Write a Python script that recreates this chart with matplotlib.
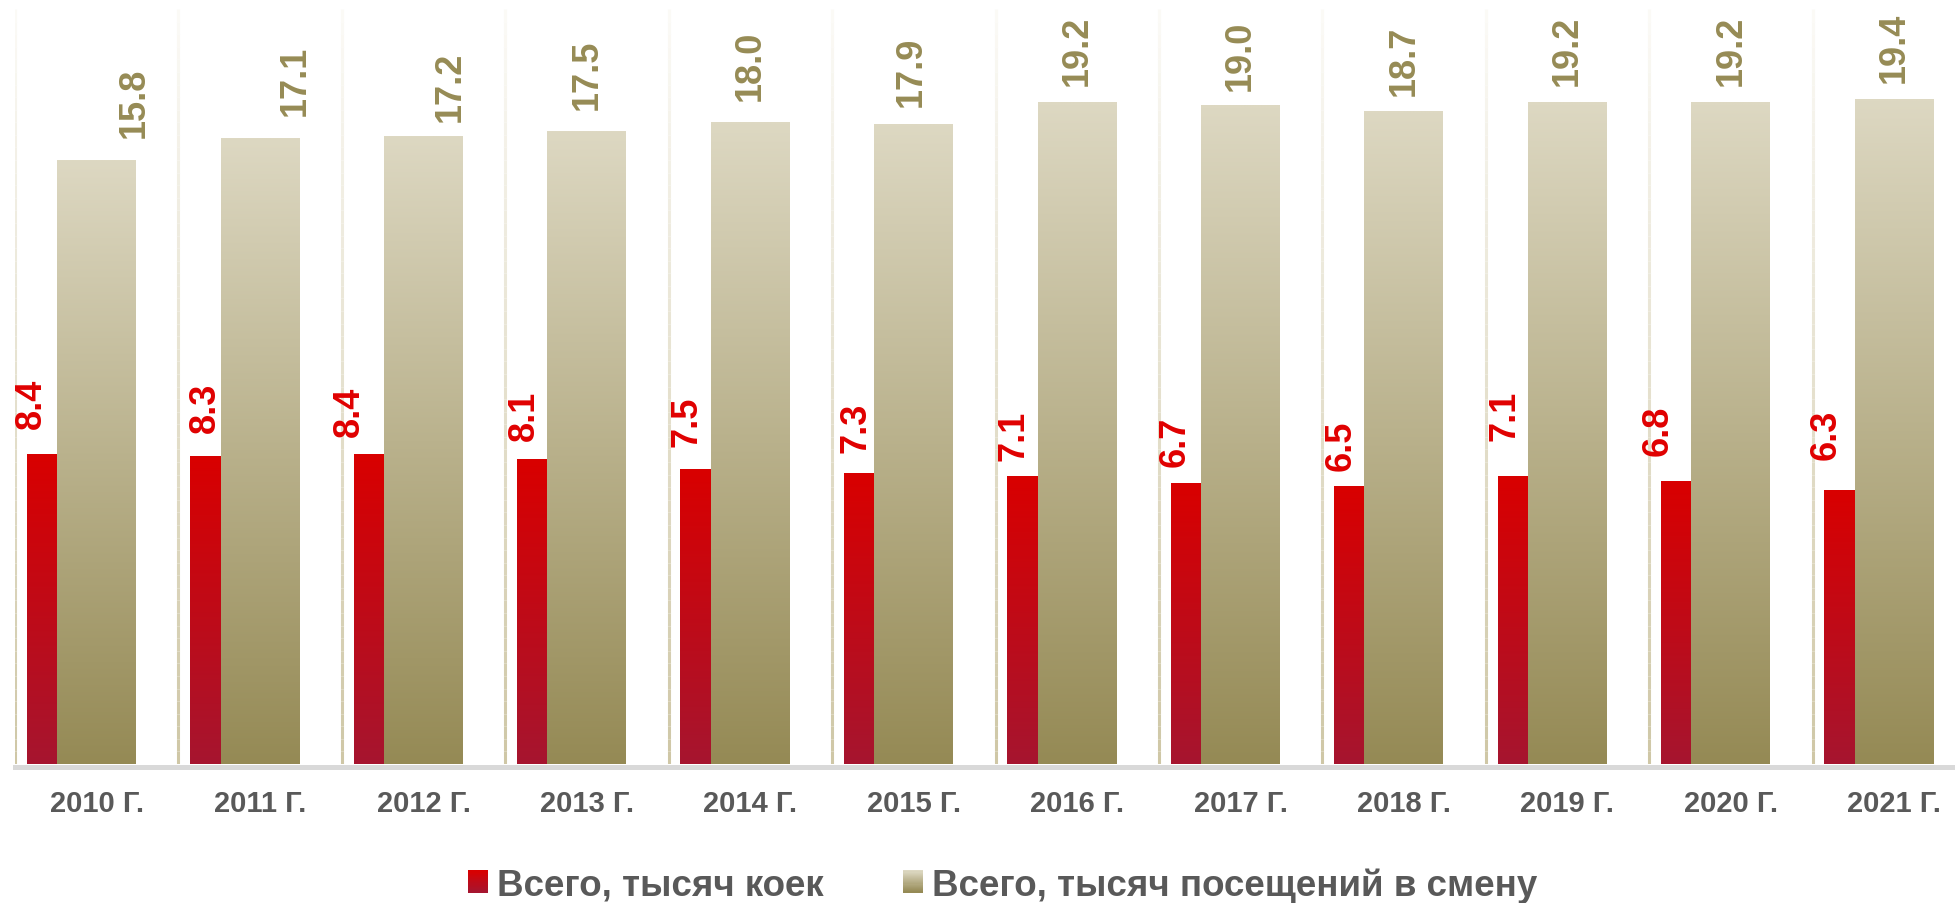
import numpy as np
import matplotlib
matplotlib.use("Agg")
import matplotlib.pyplot as plt
from matplotlib.collections import LineCollection
from matplotlib.colors import to_rgb
from matplotlib.legend_handler import HandlerBase
from matplotlib.patches import Rectangle

plt.rcParams["font.family"] = ["Liberation Sans", "DejaVu Sans"]
plt.rcParams["font.weight"] = "bold"

YEARS = ["2010 Г.", "2011 Г.", "2012 Г.", "2013 Г.", "2014 Г.", "2015 Г.",
         "2016 Г.", "2017 Г.", "2018 Г.", "2019 Г.", "2020 Г.", "2021 Г."]
BEDS = [8.4, 8.3, 8.4, 8.1, 7.5, 7.3, 7.1, 6.7, 6.5, 7.1, 6.8, 6.3]
VISITS = [15.8, 17.1, 17.2, 17.5, 18.0, 17.9, 19.2, 19.0, 18.7, 19.2, 19.2, 19.4]
SERIES = ["Всего, тысяч коек", "Всего, тысяч посещений в смену"]

# both value axes have the same px/unit, bars grow from the axis floor
BEDS_MIN = -9.9
VISITS_MIN = -19.9
SPAN = 44.6

# the value labels were dragged by hand in the original: (dx, dy) in points
BEDS_NUDGE = [(-8, 19), (0, 17), (-14, 13), (-6, 14), (-6, 17), (-2, 15),
              (-6, 12), (-8, 12), (-6, 12), (-6, 26), (-13, 19), (-10, 22)]
VISITS_NUDGE = [(27, 16.5), (25, 16.5), (19, 11), (0, 16), (0, 16.5), (-2, 13),
                (0, 12), (0, 11.5), (0, 11.5), (0, 12), (0, 12), (0, 12)]

RED_TOP, RED_BOT = "#d90000", "#a6152f"
TAN_TOP, TAN_BOT = "#ddd8c2", "#958a55"
GREY = "#595959"


def gradient_fill(ax, bars, top, bottom):
    top, bottom = np.array(to_rgb(top)), np.array(to_rgb(bottom))
    t = np.linspace(0, 1, 128)[:, None]
    img = (top * (1 - t) + bottom * t)[:, None, :]
    for b in bars:
        x0, y0 = b.get_x(), b.get_y()
        im = ax.imshow(img, extent=(x0, x0 + b.get_width(), y0, y0 + b.get_height()),
                       aspect="auto", origin="upper", zorder=3,
                       interpolation="bilinear")
        im.set_clip_path(b)
        b.set_facecolor("none")


class GradHandler(HandlerBase):
    def __init__(self, top, bottom):
        super().__init__()
        self.top, self.bottom = np.array(to_rgb(top)), np.array(to_rgb(bottom))

    def create_artists(self, legend, orig, xd, yd, w, h, fs, trans):
        n = 20
        out = []
        for k in range(n):
            c = self.top * (1 - k / (n - 1)) + self.bottom * k / (n - 1)
            out.append(Rectangle((-xd, -yd + h * (n - 1 - k) / n), w, h / n + 0.3,
                                 facecolor=c, lw=0, transform=trans))
        return out


fig = plt.figure(figsize=(19.56, 9.04), dpi=100)
ax = fig.add_axes([15 / 1956, 139 / 904, 1961 / 1956, 755 / 904])
ax2 = ax.twinx()

n = len(YEARS)
x = np.arange(n)

# category separators, fading out towards the top
sep_top, sep_bot = np.array(to_rgb("#fbfaf6")), np.array(to_rgb("#cfc7a6"))
segs, cols = [], []
steps = 60
ys = np.linspace(BEDS_MIN, BEDS_MIN + SPAN, steps + 1)
for b in range(n + 1):
    for k in range(steps):
        segs.append([(b, ys[k]), (b, ys[k + 1])])
        f = k / (steps - 1)
        cols.append(sep_bot * (1 - f) + sep_top * f)
ax.add_collection(LineCollection(segs, colors=cols, linewidths=2.2, zorder=1))

red = ax.bar(x + 0.072, np.array(BEDS) - BEDS_MIN, bottom=BEDS_MIN, width=0.188,
             align="edge", lw=0, zorder=3)
tan = ax2.bar(x + 0.258, np.array(VISITS) - VISITS_MIN, bottom=VISITS_MIN,
              width=0.483, align="edge", lw=0, zorder=3)
gradient_fill(ax, red, RED_TOP, RED_BOT)
gradient_fill(ax2, tan, TAN_TOP, TAN_BOT)

for b, v, d in zip(red, BEDS, BEDS_NUDGE):
    ax.annotate(f"{v:.1f}", (b.get_x() + b.get_width() / 2, v),
                xytext=d, textcoords="offset points", rotation=90,
                ha="center", va="bottom", fontsize=26, color="#e00000",
                fontweight="bold")
for b, v, d in zip(tan, VISITS, VISITS_NUDGE):
    ax2.annotate(f"{v:.1f}", (b.get_x() + b.get_width() / 2, v),
                 xytext=d, textcoords="offset points", rotation=90,
                 ha="center", va="bottom", fontsize=26, color="#968b55",
                 fontweight="bold")

ax.set_xlim(0, n)
ax.set_ylim(BEDS_MIN, BEDS_MIN + SPAN)
ax2.set_ylim(VISITS_MIN, VISITS_MIN + SPAN)

ax.set_xticks(x + 0.5, YEARS)
ax.tick_params(axis="x", length=0, pad=16, labelsize=21, labelcolor=GREY)
ax.set_yticks([])
ax2.set_yticks([])
for s in ["left", "right", "top"]:
    ax.spines[s].set_visible(False)
for s in ax2.spines.values():
    s.set_visible(False)
ax.spines["bottom"].set_color("#d9d9d9")
ax.spines["bottom"].set_linewidth(3.6)
ax.spines["bottom"].set_position(("outward", 1.8))

h1, h2 = Rectangle((0, 0), 1, 1), Rectangle((0, 0), 1, 1)
fig.legend([h1, h2], SERIES, loc="center", bbox_to_anchor=(1003 / 1956, 18 / 904),
           ncol=2, frameon=False, fontsize=26.5, labelcolor=GREY,
           handlelength=0.54, handleheight=0.54, handletextpad=0.25,
           columnspacing=2.15, borderaxespad=0,
           handler_map={h1: GradHandler(RED_TOP, RED_BOT),
                        h2: GradHandler(TAN_TOP, TAN_BOT)})

fig.savefig("out.png", dpi=100)
